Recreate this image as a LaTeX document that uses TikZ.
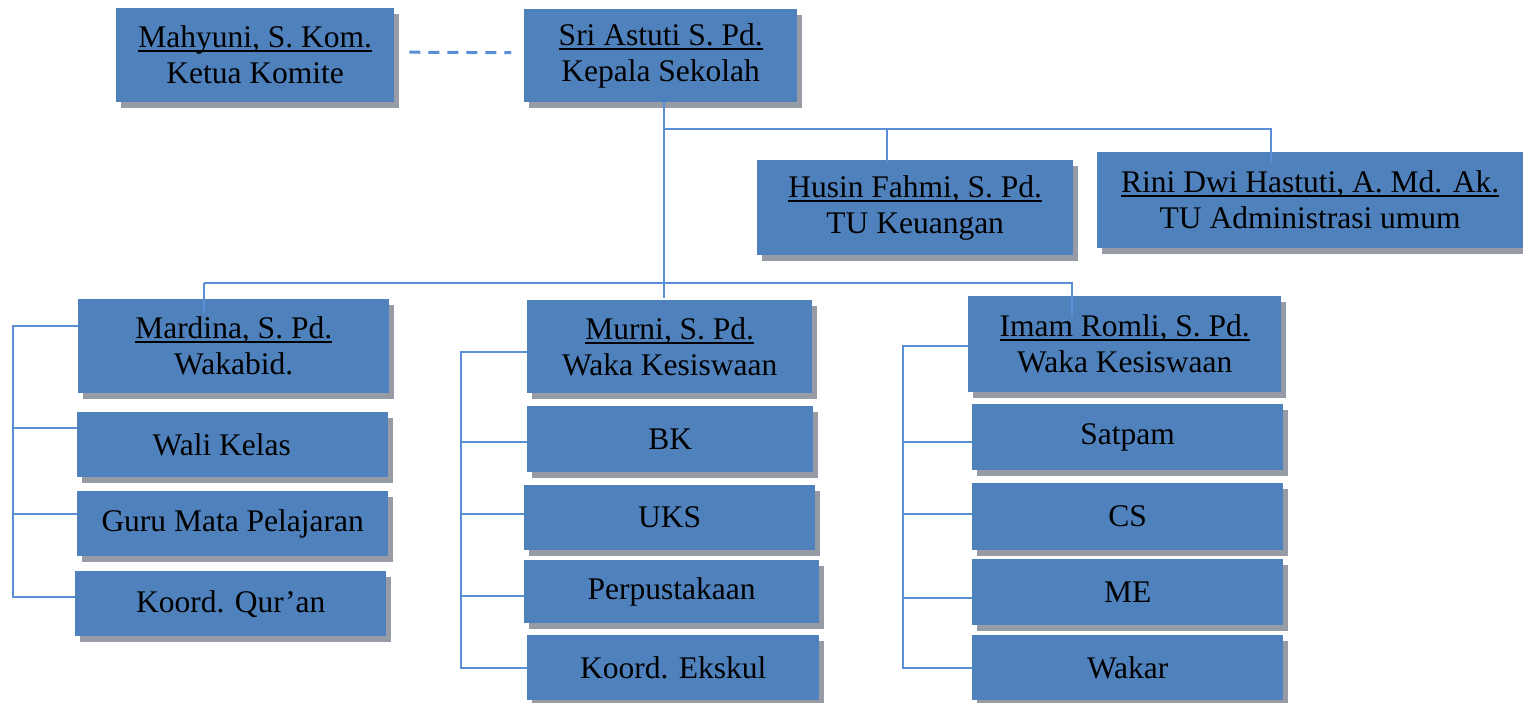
\documentclass[tikz,border=0pt]{standalone}
\usepackage{fontspec}
\setmainfont{Liberation Serif}
\usetikzlibrary{shadows}
\definecolor{boxblue}{RGB}{79,129,189}
\definecolor{linkblue}{RGB}{88,143,214}
\definecolor{shadowgray}{RGB}{150,155,165}
\newcommand\ulx[1]{\setbox0\hbox{#1}\rlap{\rule[-4.5pt]{\wd0}{2pt}}\box0}
\tikzset{
  box/.style={fill=boxblue, inner sep=0pt, anchor=north west, align=center,
    font=\fontsize{31.5}{36}\selectfont,
    drop shadow={shadow xshift=5pt, shadow yshift=-6pt, fill=shadowgray, opacity=1}},
  conn/.style={draw=linkblue, line width=2pt},
  dashconn/.style={draw=linkblue, line width=3pt, dash pattern=on 11pt off 8pt}
}
\begin{document}
\begin{tikzpicture}[x=1pt,y=-1pt]
\useasboundingbox (0,0) rectangle (1523,702);
% top row
\node[box, minimum width=278pt, minimum height=94pt] (mahyuni) at (116,8) {\ulx{Mahyuni, S. Kom.}\\Ketua Komite};
\node[box, minimum width=273pt, minimum height=93pt] (sri) at (524,9) {\ulx{Sri Astuti S. Pd.}\\Kepala Sekolah};
\node[box, minimum width=316pt, minimum height=95pt] (husin) at (757,160) {\ulx{Husin Fahmi, S. Pd.}\\TU Keuangan};
\node[box, minimum width=426pt, minimum height=96pt] (rini) at (1097,152) {\ulx{Rini Dwi Hastuti, A. Md. Ak.}\\TU Administrasi umum};
% left column
\node[box, minimum width=311pt, minimum height=94pt] (mardina) at (78,299) {\ulx{Mardina, S. Pd.}\\Wakabid.};
\node[box, minimum width=311pt, minimum height=65pt] (wali) at (77,412) {Wali Kelas\hspace*{22pt}};
\node[box, minimum width=311pt, minimum height=65pt] (guru) at (77,491) {Guru Mata Pelajaran};
\node[box, minimum width=311pt, minimum height=65pt] (koordq) at (75,571) {Koord. Qur'an};
% middle column
\node[box, minimum width=285pt, minimum height=93pt] (murni) at (527,300) {\ulx{Murni, S. Pd.}\\Waka Kesiswaan};
\node[box, minimum width=286pt, minimum height=66pt] (bk) at (527,406) {BK};
\node[box, minimum width=291pt, minimum height=65pt] (uks) at (524,485) {UKS};
\node[box, minimum width=295pt, minimum height=63pt] (perpus) at (524,560) {Perpustakaan};
\node[box, minimum width=292pt, minimum height=65pt] (ekskul) at (527,635) {Koord. Ekskul};
% right column
\node[box, minimum width=313pt, minimum height=96pt] (imam) at (968,296) {\ulx{Imam Romli, S. Pd.}\\Waka Kesiswaan};
\node[box, minimum width=311pt, minimum height=66pt] (satpam) at (972,404) {Satpam};
\node[box, minimum width=311pt, minimum height=67pt] (cs) at (972,483) {CS};
\node[box, minimum width=311pt, minimum height=66pt] (me) at (972,559) {ME};
\node[box, minimum width=311pt, minimum height=65pt] (wakar) at (972,635) {Wakar};
% junction coordinates
\coordinate (ja) at (664,129);
\coordinate (th) at (887,129);
\coordinate (tr) at (1271,129);
\coordinate (bl) at (204,283);
\coordinate (br) at (1072,283);
\coordinate (l1) at (13,326);
\coordinate (l2) at (13,428);
\coordinate (l3) at (13,514);
\coordinate (l4) at (13,597);
\coordinate (m1) at (461,352);
\coordinate (m2) at (461,442);
\coordinate (m3) at (461,514);
\coordinate (m4) at (461,596);
\coordinate (m5) at (461,668);
\coordinate (r1) at (903,346);
\coordinate (r2) at (903,442);
\coordinate (r3) at (903,514);
\coordinate (r4) at (903,598);
\coordinate (r5) at (903,668);
% connectors
\draw[dashconn] ([xshift=15pt,yshift=3pt]mahyuni.east) -- ([xshift=-13pt,yshift=3pt]sri.west);
\draw[conn] (sri.south -| ja) -- ([yshift=2pt]murni.north -| ja);
\draw[conn] (ja) -- (tr) -- ([yshift=-11pt]rini.north -| tr);
\draw[conn] (th) -- ([yshift=-3pt]husin.north -| th);
\draw[conn] (bl) -- (br) -- ([yshift=-22pt]imam.north -| br);
\draw[conn] (bl) -- ([yshift=-14pt]mardina.north -| bl);
% left group
\draw[conn] (mardina.west |- l1) -- (l1) -- (l4) -- (koordq.west |- l4);
\draw[conn] (l2) -- (wali.west |- l2);
\draw[conn] (l3) -- (guru.west |- l3);
% middle group
\draw[conn] (murni.west |- m1) -- (m1) -- (m5) -- (ekskul.west |- m5);
\draw[conn] (m2) -- (bk.west |- m2);
\draw[conn] (m3) -- (uks.west |- m3);
\draw[conn] (m4) -- (perpus.west |- m4);
% right group
\draw[conn] (imam.west |- r1) -- (r1) -- (r5) -- (wakar.west |- r5);
\draw[conn] (r2) -- (satpam.west |- r2);
\draw[conn] (r3) -- (cs.west |- r3);
\draw[conn] (r4) -- (me.west |- r4);
\end{tikzpicture}
\end{document}
